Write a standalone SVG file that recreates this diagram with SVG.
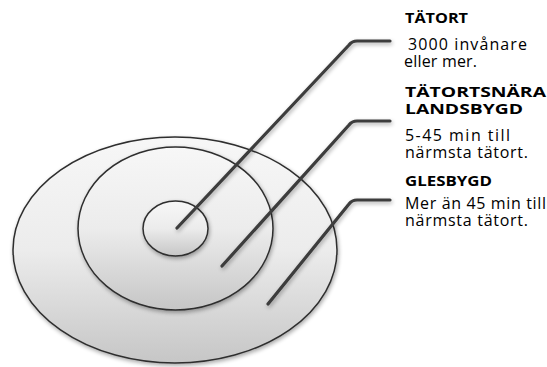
<svg xmlns="http://www.w3.org/2000/svg" width="547" height="367" viewBox="0 0 547 367">
<defs>
<linearGradient id="g" x1="0" y1="0" x2="0" y2="1">
<stop offset="0" stop-color="#f7f7f7"/>
<stop offset="0.5" stop-color="#ececec"/>
<stop offset="1" stop-color="#c6c6c6"/>
</linearGradient>
<filter id="sh" x="-10%" y="-10%" width="120%" height="125%">
<feGaussianBlur in="SourceAlpha" stdDeviation="2"/>
<feOffset dx="1" dy="2" result="b"/>
<feComponentTransfer><feFuncA type="linear" slope="0.35"/></feComponentTransfer>
<feMerge><feMergeNode/><feMergeNode in="SourceGraphic"/></feMerge>
</filter>
</defs>
<style>
.ring{fill:url(#g);stroke:#2e2e2e;stroke-width:1.5}
.ln{fill:none;stroke:#3c3c3c;stroke-width:3.2;stroke-linecap:round;stroke-linejoin:round}
.h{font-family:"Open Sans","Liberation Sans",sans-serif;font-weight:bold;font-size:15px;fill:#000}
.t{font-family:"Open Sans","Liberation Sans",sans-serif;font-size:16px;fill:#000}
</style>
<rect width="547" height="367" fill="#fff"/>
<g id="glesbygd-ring" filter="url(#sh)"><ellipse class="ring" cx="175" cy="250" rx="162" ry="113"/></g>
<g id="tatortsnara-ring" filter="url(#sh)"><ellipse class="ring" cx="175.5" cy="228.5" rx="97.5" ry="81.5"/></g>
<g id="tatort-ring" filter="url(#sh)"><ellipse class="ring" cx="175.5" cy="228.5" rx="32.5" ry="27.5"/></g>
<g id="connectors" filter="url(#sh)">
<path class="ln" d="M177 228 L349 45 Q352 41 357 41 L390 41"/>
<path class="ln" d="M222 266 L349 125 Q352 121 357 121 L390 121"/>
<path class="ln" d="M268 304 L349 204 Q352 200 357 200 L390 200"/>
</g>
<g id="label-tatort">
<text class="h" x="405" y="23" textLength="63" lengthAdjust="spacingAndGlyphs">TÄTORT</text>
<text class="t" x="408" y="50" textLength="119">3000 invånare</text>
<text class="t" x="404" y="67" textLength="73">eller mer.</text>
</g>
<g id="label-tatortsnara">
<text class="h" x="405" y="97" textLength="141" lengthAdjust="spacingAndGlyphs">TÄTORTSNÄRA</text>
<text class="h" x="405" y="114" textLength="118" lengthAdjust="spacingAndGlyphs">LANDSBYGD</text>
<text class="t" x="405" y="141" textLength="105">5-45 min till</text>
<text class="t" x="405" y="158" textLength="123">närmsta tätort.</text>
</g>
<g id="label-glesbygd">
<text class="h" x="405" y="186" textLength="87" lengthAdjust="spacingAndGlyphs">GLESBYGD</text>
<text class="t" x="405" y="209" textLength="141">Mer än 45 min till</text>
<text class="t" x="405" y="226" textLength="123">närmsta tätort.</text>
</g>
</svg>
